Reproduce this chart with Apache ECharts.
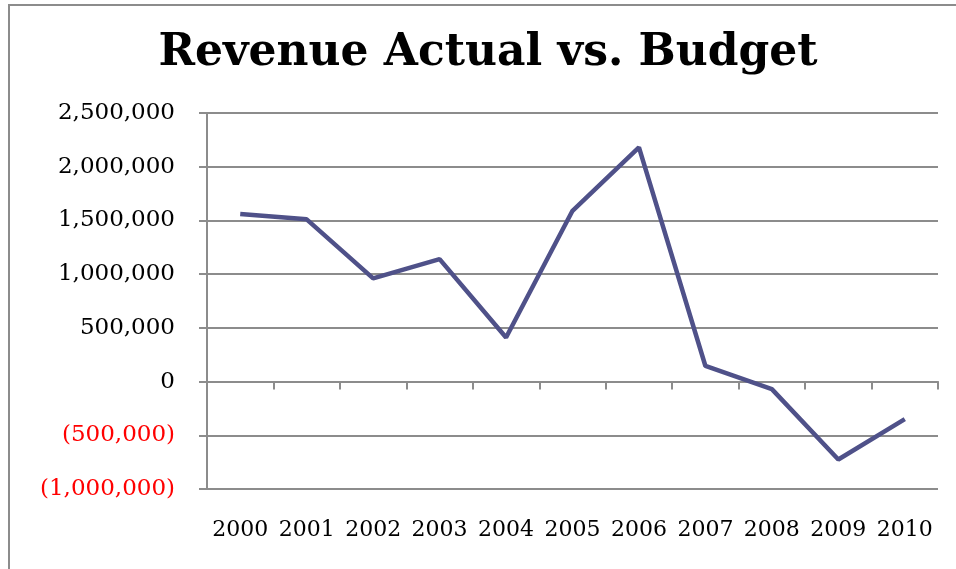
<!DOCTYPE html>
<html>
<head>
<meta charset="utf-8">
<script src="https://cdn.jsdelivr.net/npm/echarts@6/dist/echarts.min.js"></script>
<style>
html,body{margin:0;padding:0;background:#fff;}
#chart{width:956px;height:569px;}
</style>
</head>
<body>
<div id="chart"></div>
<script>
const titleText = 'Revenue Actual vs. Budget';
const years = ['2000','2001','2002','2003','2004','2005','2006','2007','2008','2009','2010'];
const revenueVsBudget = [1560000, 1510000, 960000, 1140000, 410000, 1590000, 2180000, 145000, -70000, -725000, -350000];
const yMin = -1000000, yMax = 2500000, yStep = 500000;

const chart = echarts.init(document.getElementById('chart'), null, {renderer:'canvas'});
const fmt = v => {
  const s = Math.abs(v).toLocaleString('en-US');
  return v < 0 ? '(' + s + ')' : s;
};
const serif = 'DejaVu Serif';
chart.setOption({
  animation:false,
  backgroundColor:'#fff',
  graphic:[
    {type:'polyline', shape:{points:[[9,569],[9,5],[956,5]]}, style:{stroke:'#8c8c8c', lineWidth:2, fill:null}},
    {type:'text', x:488, y:54, style:{text:titleText, font:'bold 44px "DejaVu Serif"', fill:'#000', textAlign:'center', textVerticalAlign:'middle'}}
  ],
  grid:{left:207, right:18, top:113, bottom:80, containLabel:false},
  xAxis:[
    {type:'category', data:years, position:'bottom', boundaryGap:true,
     axisLine:{show:false, onZero:false}, axisTick:{show:false},
     axisLabel:{interval:0, hideOverlap:false, margin:30, fontFamily:serif, fontSize:22, color:'#000'}},
    {type:'category', data:years, position:'top', boundaryGap:true,
     axisLine:{show:true, onZero:true, lineStyle:{color:'#8c8c8c', width:2}},
     axisTick:{show:true, inside:true, length:8, lineStyle:{color:'#8c8c8c', width:2}},
     axisLabel:{show:false}, splitLine:{show:false}}
  ],
  yAxis:{type:'value', min:yMin, max:yMax, interval:yStep,
    axisLine:{show:true, lineStyle:{color:'#8c8c8c', width:2}},
    axisTick:{show:true, length:8, lineStyle:{color:'#8c8c8c', width:2}},
    splitLine:{show:true, lineStyle:{color:'#8c8c8c', width:2}},
    axisLabel:{margin:32, fontFamily:serif, fontSize:23, formatter:fmt,
      color: v => (Number(v) < 0 ? '#ff0000' : '#000')}},
  series:[{type:'line', xAxisIndex:0, data:revenueVsBudget, symbol:'none',
    lineStyle:{color:'#4f5189', width:4.5}}]
});
</script>
</body>
</html>
